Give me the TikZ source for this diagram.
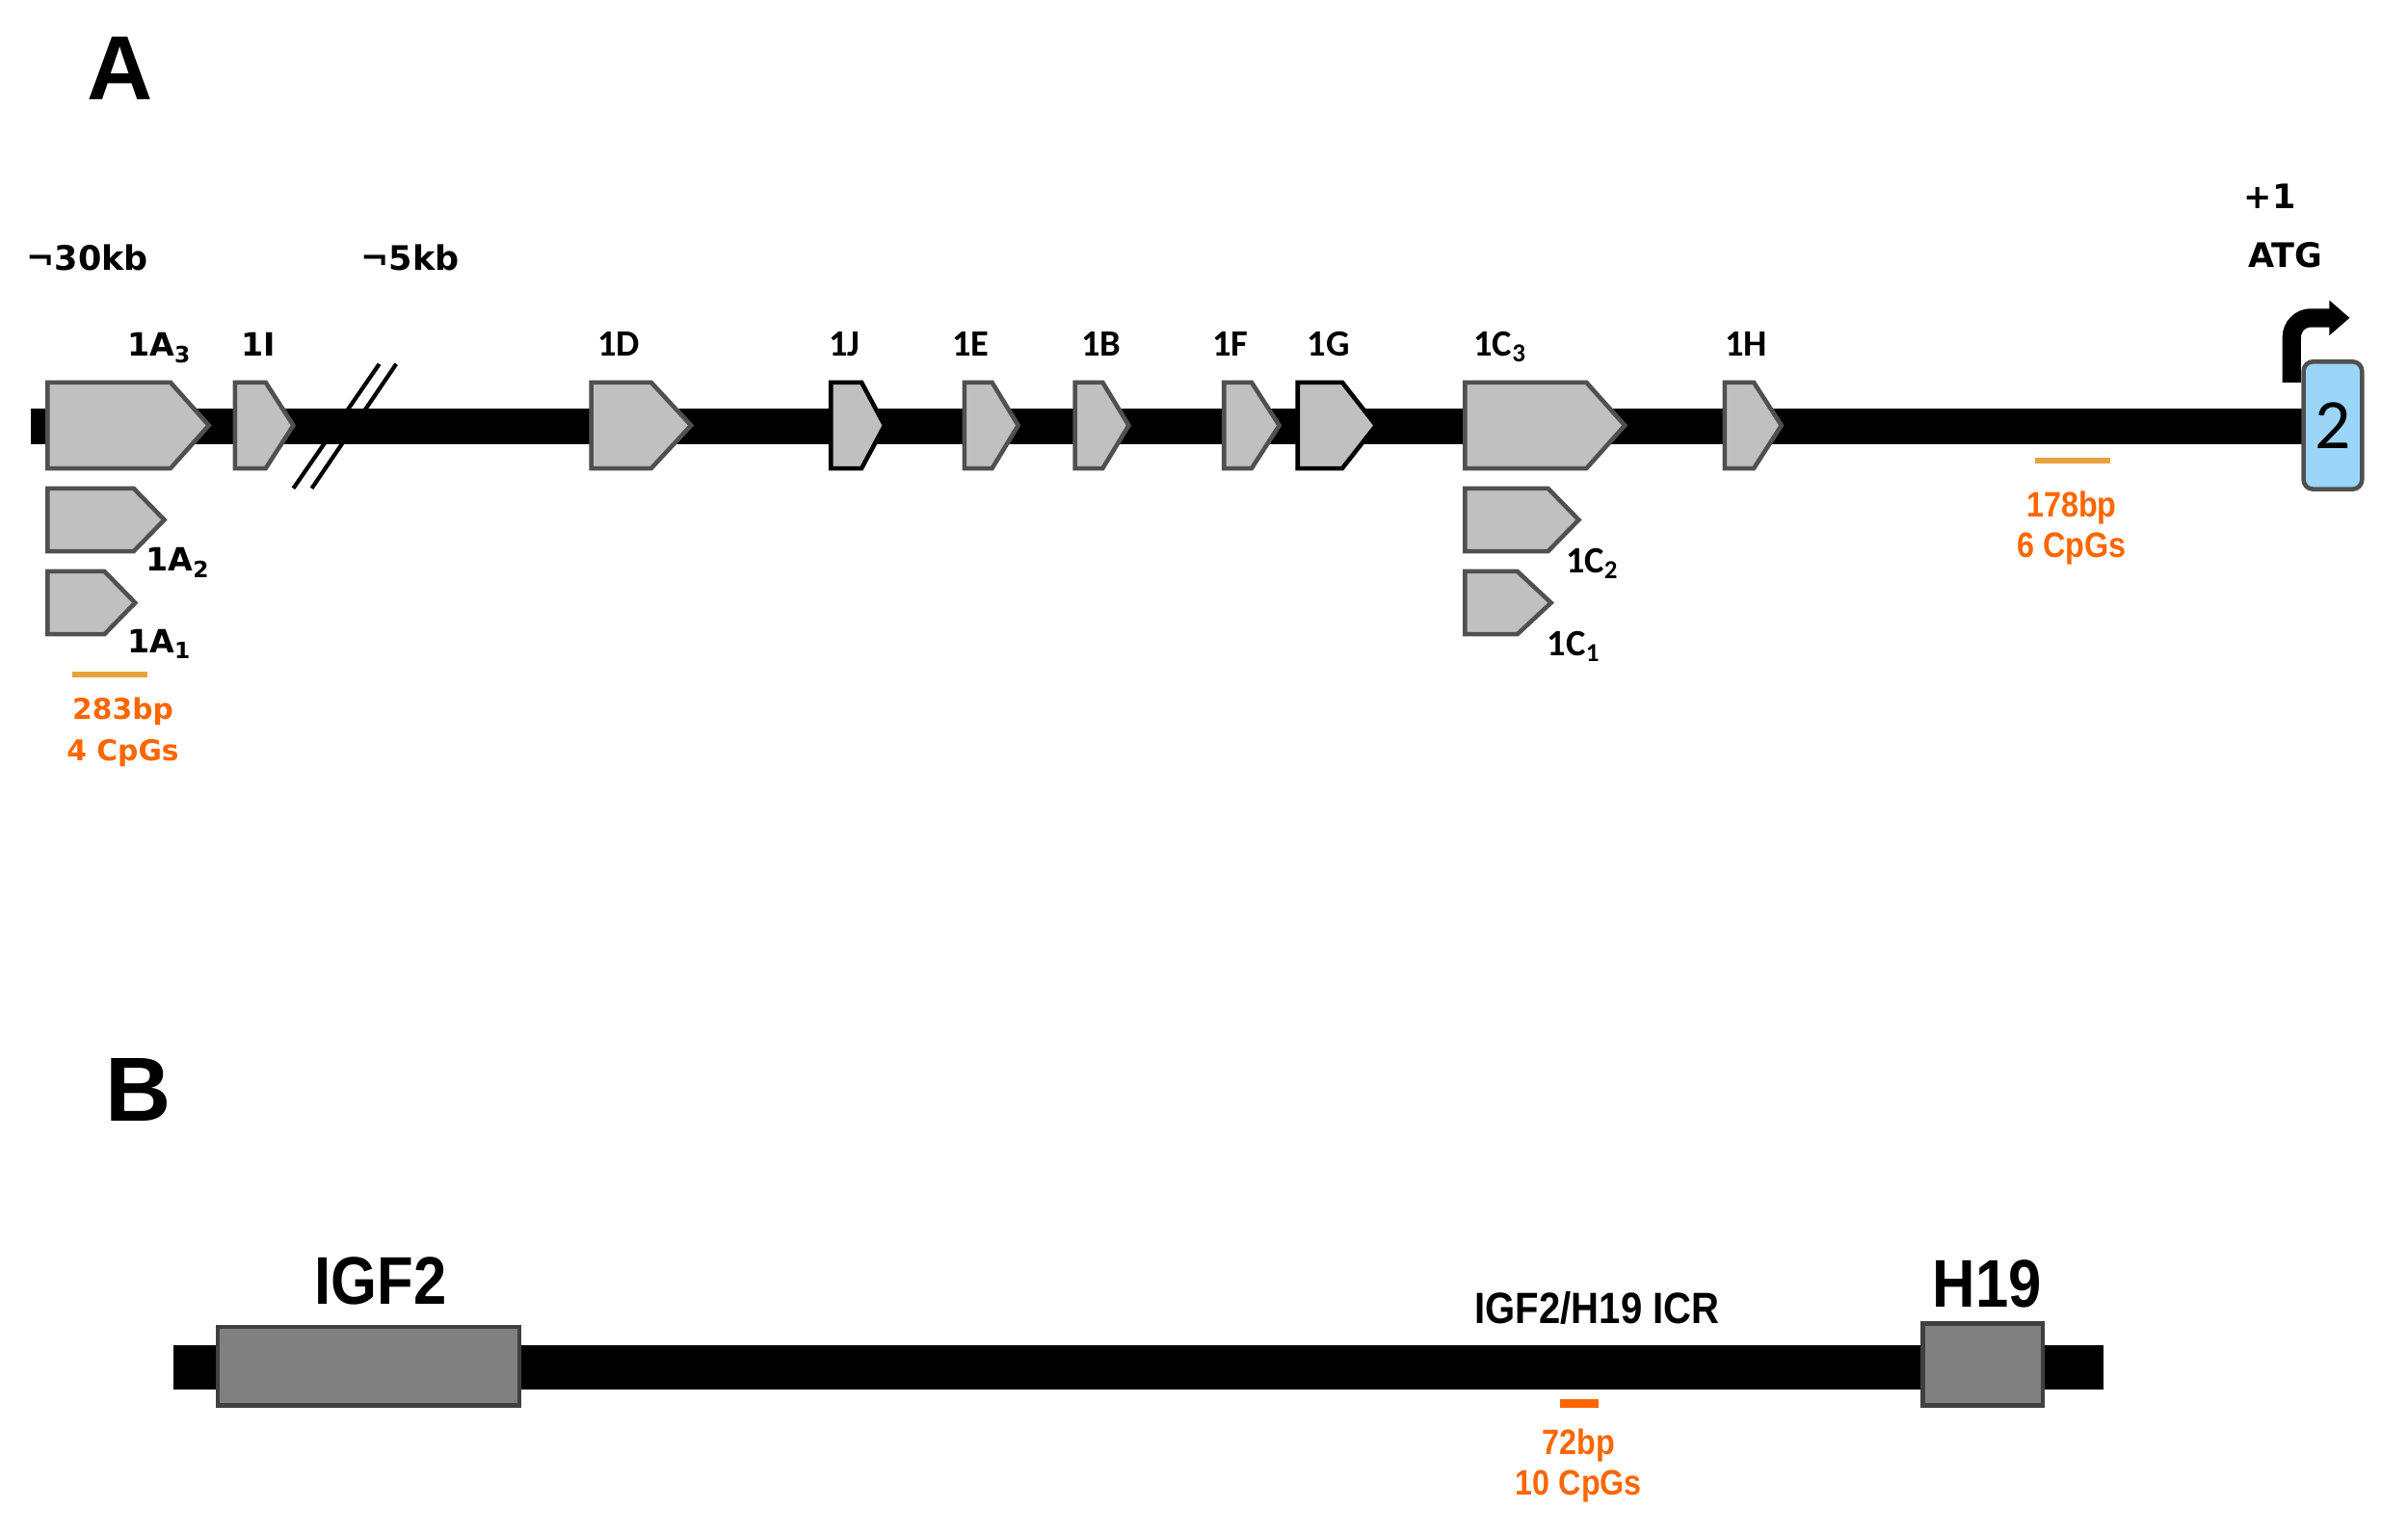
\documentclass[tikz,border=0pt]{standalone}
\usepackage{fontspec}
\setmainfont{Liberation Sans}
\newfontfamily\verdana{DejaVu Sans}
\newfontfamily\calibri{Carlito}
\newfontfamily\arialnarrow[FakeStretch=0.88]{Liberation Sans}
\usetikzlibrary{arrows.meta, positioning, calc}
\definecolor{ExonGray}{RGB}{192,192,192}
\definecolor{ExonEdge}{RGB}{80,80,80}
\definecolor{ExonBlue}{RGB}{155,213,247}
\definecolor{GeneGray}{RGB}{128,128,128}
\definecolor{GeneEdge}{RGB}{64,64,64}
\definecolor{CpGGold}{RGB}{232,163,61}
\definecolor{CpGOrange}{RGB}{255,102,0}

\begin{document}
\begin{tikzpicture}[x=0.016cm, y=-0.016cm,
        exon/.style={draw=ExonEdge, fill=ExonGray, line width=1.3pt, line join=miter},
        exondark/.style={exon, draw=black},
        exontwo/.style={draw=ExonEdge, fill=ExonBlue, line width=1.3pt, rounded corners=0.1cm,
                        minimum width=0.61cm, minimum height=1.33cm, inner sep=0pt,
                        font=\calibri\fontsize{21}{24}\selectfont},
        genebox/.style={draw=GeneEdge, fill=GeneGray, line width=1.3pt, inner sep=0pt},
        panel/.style={anchor=base, font=\bfseries\fontsize{27}{30}\selectfont},
        kb/.style={anchor=base, inner sep=0pt, font=\verdana\bfseries\fontsize{10}{12}\selectfont},
        labA/.style={anchor=base, inner sep=0pt, font=\verdana\bfseries\fontsize{9.5}{11}\selectfont},
        lab/.style={anchor=base, inner sep=0pt, font=\calibri\bfseries\fontsize{11}{13}\selectfont},
        brk/.style={line width=1.2pt},
        tss/.style={line width=5.5pt, rounded corners=0.2cm, -{Triangle[length=6pt,width=10pt]}},
        cpgA/.style={draw=CpGGold, line width=1.8pt},
        cpgB/.style={draw=CpGOrange, line width=2.7pt},
        cpgtxt/.style={text=CpGOrange, align=center, inner sep=0pt,
                       font=\verdana\bfseries\fontsize{8.5}{12.3}\selectfont},
        cpgtxtn/.style={text=CpGOrange, align=center, inner sep=0pt,
                        font=\arialnarrow\bfseries\fontsize{10.5}{12}\selectfont},
        gene/.style={anchor=base, inner sep=0pt, font=\arialnarrow\bfseries\fontsize{20}{23}\selectfont},
        icr/.style={anchor=base, inner sep=0pt, font=\arialnarrow\bfseries\fontsize{13}{15}\selectfont}
      ]
        \useasboundingbox (0,0) rectangle (1568,1000);

        % panel A
        \node[panel] (pA) at (78,65) {A};
        \node[kb] (kb30) at (57,176) {¬30kb};
        \node[kb] (kb5) at (267,176) {¬5kb};
        \node[kb] (plus1) at (1478,136) {+1};
        \node[kb] (atg) at (1488,174) {ATG};

        \fill (20,266) rectangle (1505,289);
        \draw[brk] (191,318) -- (247,237);
        \draw[brk] (203,318) -- (258,237);

        \draw[exon] (31,249) -- (111,249) -- (136,277) -- (111,305) -- (31,305) -- cycle;
        \draw[exon] (153,249) -- (173,249) -- (191,277) -- (173,305) -- (153,305) -- cycle;
        \draw[exon] (385,249) -- (424,249) -- (450,277) -- (424,305) -- (385,305) -- cycle;
        \draw[exondark] (541,249) -- (561,249) -- (576,277) -- (561,305) -- (541,305) -- cycle;
        \draw[exon] (628,249) -- (646,249) -- (663,277) -- (646,305) -- (628,305) -- cycle;
        \draw[exon] (700,249) -- (718,249) -- (735,277) -- (718,305) -- (700,305) -- cycle;
        \draw[exon] (797,249) -- (815,249) -- (833,277) -- (815,305) -- (797,305) -- cycle;
        \draw[exondark] (845,249) -- (874,249) -- (896,277) -- (874,305) -- (845,305) -- cycle;
        \draw[exon] (954,249) -- (1033,249) -- (1058,277) -- (1033,305) -- (954,305) -- cycle;
        \draw[exon] (1123,249) -- (1142,249) -- (1160,277) -- (1142,305) -- (1123,305) -- cycle;

        \draw[exon] (31,318) -- (87,318) -- (107,338.5) -- (87,359) -- (31,359) -- cycle;
        \draw[exon] (31,372) -- (68,372) -- (88,392.5) -- (68,413) -- (31,413) -- cycle;
        \draw[exon] (954,318) -- (1008,318) -- (1028,338.5) -- (1008,359) -- (954,359) -- cycle;
        \draw[exon] (954,372) -- (988,372) -- (1010,392.5) -- (988,413) -- (954,413) -- cycle;

        \node[labA] (l1A3) at (104,232) {1A\textsubscript{3}};
        \node[labA] (l1I) at (168,232) {1I};
        \node[lab] (l1D) at (403,232) {1D};
        \node[lab] (l1J) at (550,232) {1J};
        \node[lab] (l1E) at (632,232) {1E};
        \node[lab] (l1B) at (717,232) {1B};
        \node[lab] (l1F) at (801,232) {1F};
        \node[lab] (l1G) at (865,232) {1G};
        \node[lab] (l1C3) at (977,232) {1C\textsubscript{3}};
        \node[lab] (l1H) at (1137,232) {1H};
        \node[labA] (l1A2) at (116,372) {1A\textsubscript{2}};
        \node[labA] (l1A1) at (104,425) {1A\textsubscript{1}};
        \node[lab] (l1C2) at (1037,373) {1C\textsubscript{2}};
        \node[lab] (l1C1) at (1025,427) {1C\textsubscript{1}};

        \node[exontwo] (exon2) at (1519,277) {2};
        \coordinate (tssend) at (1530,207);
        \draw[tss] ([xshift=-0.1cm, yshift=-0.24cm]exon2.north west) |- (tssend);

        \draw[cpgA] (47,439) -- (96,439);
        \node[cpgtxt] (cpg1A) at (80,476.5) {283bp\\4 CpGs};
        \draw[cpgA] (1325,300) -- (1374,300);
        \node[cpgtxtn] (cpg1H) at (1349,344) {178bp\\6 CpGs};

        % panel B
        \node[panel] (pB) at (90,730) {B};
        \fill (113,876) rectangle (1370,905);
        \node[genebox, minimum width=3.14cm, minimum height=0.82cm] (igf2) at (240,889.5) {};
        \node[genebox, minimum width=1.25cm, minimum height=0.85cm] (h19) at (1291,888.5) {};
        \node[gene] (igf2lab) at (248,849) {IGF2};
        \node[gene] (h19lab) at (1294,851) {H19};
        \node[icr] (icrlab) at (1040,862) {IGF2/H19 ICR};
        \draw[cpgB] (1016,914) -- (1041,914);
        \node[cpgtxtn] (cpgicr) at (1028,954.5) {72bp\\10 CpGs};
      \end{tikzpicture}
\end{document}
